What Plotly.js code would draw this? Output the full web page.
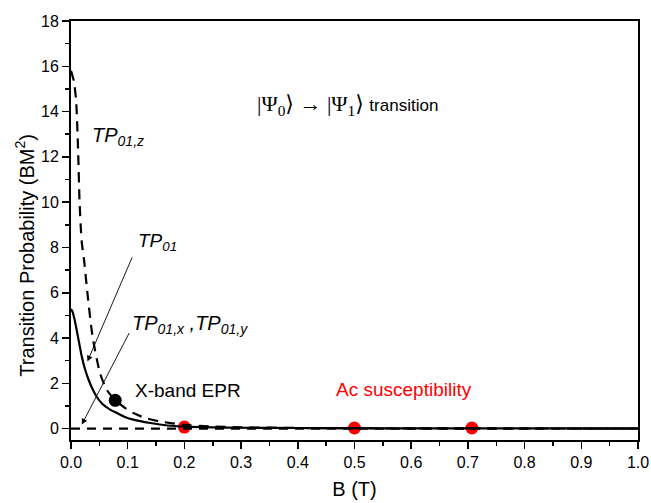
<!DOCTYPE html>
<html>
<head>
<meta charset="utf-8">
<script src="https://cdn.plot.ly/plotly-3.0.1.min.js"></script>
<style>html,body{margin:0;padding:0;background:#fff;}#chart{width:651px;height:503px;}</style>
</head>
<body>
<div id="chart"></div>
<script>
// Field values (T)
const B_tp01 = [0, 0.003, 0.006, 0.010, 0.015, 0.019, 0.025, 0.031, 0.038, 0.045, 0.055, 0.069, 0.081, 0.095, 0.110, 0.140, 0.170, 0.200, 0.25, 0.3, 0.4, 0.5, 0.6, 0.7, 0.8, 0.9, 1.0];
const TP01   = [5.28, 5.15, 4.85, 4.36, 3.7, 3.19, 2.6, 2.16, 1.75, 1.42, 1.1, 0.84, 0.69, 0.52, 0.40, 0.25, 0.14, 0.09, 0.06, 0.04, 0.03, 0.02, 0.015, 0.01, 0.01, 0.01, 0.01];

const B_tp01z = [0, 0.005, 0.009, 0.0125, 0.015, 0.0187, 0.023, 0.029, 0.038, 0.051, 0.063, 0.078, 0.095, 0.11, 0.13, 0.157, 0.2, 0.25, 0.3, 0.4, 0.5, 0.7, 1.0];
const TP01z   = [15.8, 15.35, 14.5, 12.3, 10.1, 8.3, 7.45, 5.98, 4.07, 2.46, 1.72, 1.25, 0.92, 0.69, 0.48, 0.32, 0.17, 0.1, 0.06, 0.03, 0.02, 0.01, 0.005];

const B_tp01xy = [0, 1.0];
const TP01xy   = [0, 0];

const B_epr = [0.078];
const TP_epr = [1.25];

const B_ac = [0.2, 0.5, 0.707];
const TP_ac = [0.07, 0.03, 0.03];

const xTicks = [0, 0.1, 0.2, 0.3, 0.4, 0.5, 0.6, 0.7, 0.8, 0.9, 1.0];
const xTickLabels = ["0.0","0.1","0.2","0.3","0.4","0.5","0.6","0.7","0.8","0.9","1.0"];
const yTicks = [0, 2, 4, 6, 8, 10, 12, 14, 16, 18];

const xTitle = 'B (T)';
const yTitle = 'Transition Probability (BM<sup>2</sup>)';

// Label anchors and arrow (head, tail) in data units
const arrowTP01 = {head:[0.029, 2.97], tail:[0.109, 7.63]};
const arrowTP01xy = {head:[0.019, 0.18], tail:[0.104, 4.29]};

const traces = [
  {x:B_ac, y:TP_ac, mode:'markers', marker:{color:'#ff0000', size:13}, hoverinfo:'skip'},
  {x:B_epr, y:TP_epr, mode:'markers', marker:{color:'#000', size:13}, hoverinfo:'skip'},
  {x:B_tp01xy, y:TP01xy, mode:'lines', line:{color:'#000', width:2.2, dash:'9px,7px'}, hoverinfo:'skip'},
  {x:B_tp01z, y:TP01z, mode:'lines', line:{color:'#000', width:2.2, dash:'10px,7px', shape:'spline', smoothing:0.6}, hoverinfo:'skip'},
  {x:B_tp01, y:TP01, mode:'lines', line:{color:'#000', width:2.2, shape:'spline', smoothing:0.6}, hoverinfo:'skip'}
];

const font = "Arial, 'Liberation Sans', sans-serif";
const serif = "'Liberation Serif','DejaVu Serif',serif";

const ann = [
  {xref:'paper', yref:'paper', x:-0.081, y:0.44, text:yTitle, textangle:-90, showarrow:false, xanchor:'center', yanchor:'middle', font:{size:20, family:font, color:'#000'}},
  {x:0.033, y:12.9, text:'<i>TP<sub>01,z</sub></i>', showarrow:false, xanchor:'left', yanchor:'middle', font:{size:20, family:font, color:'#000'}},
  {x:0.114, y:8.25, text:'<i>TP<sub>01</sub></i>', showarrow:false, xanchor:'left', yanchor:'middle', font:{size:19, family:font, color:'#000'}},
  {x:0.104, y:4.59, text:'<i>TP<sub>01,x</sub> ,TP<sub>01,y</sub></i>', showarrow:false, xanchor:'left', yanchor:'middle', font:{size:20, family:font, color:'#000'}},
  {x:0.110, y:1.68, text:'X-band EPR', showarrow:false, xanchor:'left', yanchor:'middle', font:{size:19, family:font, color:'#000'}},
  {x:0.463, y:1.72, text:'Ac susceptibility', showarrow:false, xanchor:'left', yanchor:'middle', font:{size:19, family:font, color:'#ff0000'}},
  {x:0.325, y:14.28, text:"|Ψ<sub>0</sub>⟩ → |Ψ<sub>1</sub>⟩ <span style=\"font-family:Arial,'Liberation Sans',sans-serif;font-size:17px\">transition</span>", showarrow:false, xanchor:'left', yanchor:'middle', font:{size:22, family:serif, color:'#000'}},
  {x:arrowTP01.head[0], y:arrowTP01.head[1], ax:arrowTP01.tail[0], ay:arrowTP01.tail[1], axref:'x', ayref:'y', text:'', showarrow:true, arrowhead:2, arrowsize:1.3, arrowwidth:0.9, arrowcolor:'#000'},
  {x:arrowTP01xy.head[0], y:arrowTP01xy.head[1], ax:arrowTP01xy.tail[0], ay:arrowTP01xy.tail[1], axref:'x', ayref:'y', text:'', showarrow:true, arrowhead:2, arrowsize:1.3, arrowwidth:0.9, arrowcolor:'#000'}
];

const layout = {
  width:651, height:503,
  margin:{l:71, r:13, t:21, b:63},
  paper_bgcolor:'#fff', plot_bgcolor:'#fff',
  showlegend:false,
  font:{family:font, color:'#000'},
  xaxis:{
    range:[0,1.0], tickmode:'array', tickvals:xTicks, ticktext:xTickLabels,
    ticks:'outside', ticklen:7, tickwidth:1.5, tickcolor:'#000',
    minor:{dtick:0.05, ticks:'outside', ticklen:4, tickwidth:1.5, tickcolor:'#000', showgrid:false},
    showline:true, linewidth:2, linecolor:'#000', mirror:true,
    showgrid:false, zeroline:false,
    tickfont:{size:16, family:font},
    title:{text:xTitle, font:{size:20, family:font}, standoff:12}
  },
  yaxis:{
    range:[-0.5,18], tickmode:'array', tickvals:yTicks,
    ticks:'outside', ticklen:7, tickwidth:1.5, tickcolor:'#000',
    minor:{dtick:1, ticks:'outside', ticklen:4, tickwidth:1.5, tickcolor:'#000', showgrid:false},
    showline:true, linewidth:2, linecolor:'#000', mirror:true,
    showgrid:false, zeroline:false,
    tickfont:{size:16, family:font}
  },
  annotations:ann
};

Plotly.newPlot('chart', traces, layout, {staticPlot:true, displayModeBar:false});
</script>
</body>
</html>
